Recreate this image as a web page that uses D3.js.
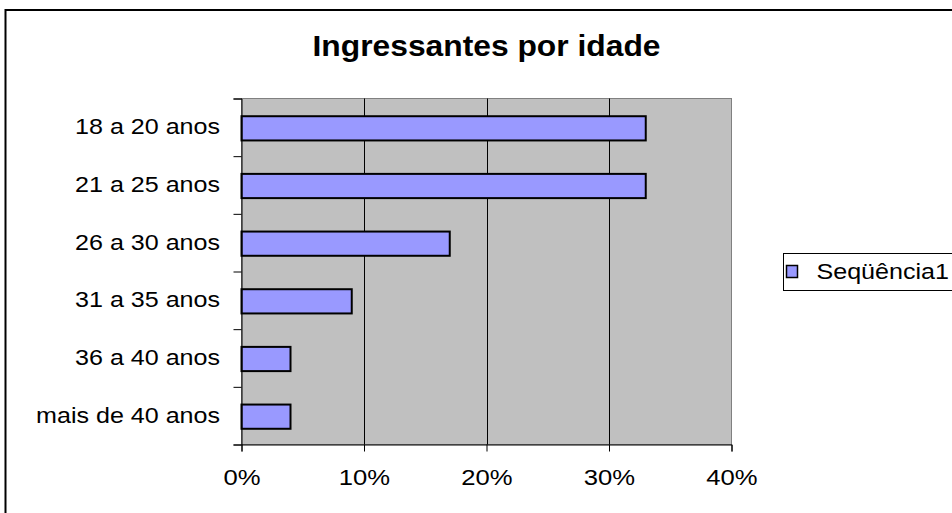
<!DOCTYPE html>
<html>
<head>
<meta charset="utf-8">
<script src="https://cdn.jsdelivr.net/npm/d3@7"></script>
<style>
  body { margin: 0; background: #fff; }
  text { font-family: "Liberation Sans", Arial, sans-serif; fill: #000; }
</style>
</head>
<body>
<div id="chart"></div>
<script>
// data
var categories = ["18 a 20 anos", "21 a 25 anos", "26 a 30 anos", "31 a 35 anos", "36 a 40 anos", "mais de 40 anos"];
var values = [0.33, 0.33, 0.17, 0.09, 0.04, 0.04];
var xTicks = [0, 0.1, 0.2, 0.3, 0.4];
var seriesName = "Seqüência1";
var title = "Ingressantes por idade";

var W = 952, H = 513;
var plot = {left: 241.5, right: 731.5, top: 98.5, bottom: 444.5};
// the original was stretched sideways a bit
var sx = 1.14;

var svg = d3.select("#chart")
  .append("svg")
    .attr("width", W)
    .attr("height", H);

// outer chart frame (runs off the right and bottom of the picture)
svg.append("rect")
    .attr("x", 5.5).attr("y", 10)
    .attr("width", 1000).attr("height", 600)
    .attr("fill", "#fff")
    .attr("stroke", "#000")
    .attr("stroke-width", 2);

svg.append("text")
    .attr("transform", "translate(486.5,55.5) scale(1.06,1)")
    .attr("text-anchor", "middle")
    .style("font-size", "30px")
    .style("font-weight", "bold")
    .text(title);

var x = d3.scaleLinear().domain([0, 0.4]).range([plot.left, plot.right]);
var y = d3.scaleBand().domain(categories).range([plot.top, plot.bottom]).padding(0);
var yEdge = d3.scaleLinear().domain([0, categories.length]).range([plot.top, plot.bottom]);

// plot area
svg.append("rect")
    .attr("x", plot.left).attr("y", plot.top)
    .attr("width", plot.right - plot.left)
    .attr("height", plot.bottom - plot.top)
    .attr("fill", "#c0c0c0")
    .attr("stroke", "#808080")
    .attr("stroke-width", 1);

// vertical gridlines
svg.append("g")
  .selectAll("line")
  .data(xTicks.slice(1, -1))
  .enter().append("line")
    .attr("x1", function(d) { return Math.round(x(d)) + 0.5; })
    .attr("x2", function(d) { return Math.round(x(d)) + 0.5; })
    .attr("y1", plot.top)
    .attr("y2", plot.bottom)
    .attr("stroke", "#000")
    .attr("stroke-width", 1);

// bars
var barH = y.bandwidth() * 0.42;
svg.append("g")
  .selectAll("rect")
  .data(values)
  .enter().append("rect")
    .attr("x", x(0))
    .attr("y", function(d, i) { return y(categories[i]) + (y.bandwidth() - barH) / 2 + 1; })
    .attr("width", function(d) { return x(d) - x(0); })
    .attr("height", barH)
    .attr("fill", "#9999ff")
    .attr("stroke", "#000")
    .attr("stroke-width", 2);

// category axis: ticks on the band edges, labels in the middle
var yAxis = svg.append("g")
    .attr("transform", "translate(" + plot.left + ",0)")
    .call(d3.axisLeft(yEdge).tickValues(d3.range(categories.length + 1)).tickSize(8).tickFormat(""));
yAxis.selectAll("path, line").attr("stroke", "#000").attr("stroke-width", 1);

svg.append("g")
  .selectAll("text")
  .data(categories)
  .enter().append("text")
    .attr("transform", function(d) {
      return "translate(220," + (y(d) + y.bandwidth() / 2 + 7) + ") scale(" + sx + ",1)";
    })
    .attr("text-anchor", "end")
    .style("font-size", "22px")
    .text(function(d) { return d; });

// value axis
var xAxis = svg.append("g")
    .attr("transform", "translate(0," + plot.bottom + ")")
    .call(d3.axisBottom(x).tickValues(xTicks).tickSize(7).tickFormat(d3.format(".0%")));
xAxis.selectAll("path, line").attr("stroke", "#000").attr("stroke-width", 1);
xAxis.selectAll("text")
    .attr("y", 41)
    .attr("dy", null)
    .attr("transform", "scale(" + sx + ",1)")
    .style("font-size", "22.5px")
    .style("font-family", "'Liberation Sans', Arial, sans-serif")
    .attr("fill", "#000");

// legend
var legend = svg.append("g").attr("transform", "translate(783.5,253.5)");
legend.append("rect")
    .attr("width", 300).attr("height", 37)
    .attr("fill", "#fff")
    .attr("stroke", "#000")
    .attr("stroke-width", 1);
legend.append("rect")
    .attr("x", 3).attr("y", 12)
    .attr("width", 11).attr("height", 12)
    .attr("fill", "#9999ff")
    .attr("stroke", "#000")
    .attr("stroke-width", 1.5);
legend.append("text")
    .attr("transform", "translate(33,25) scale(" + sx + ",1)")
    .style("font-size", "22px")
    .text(seriesName);
</script>
</body>
</html>
